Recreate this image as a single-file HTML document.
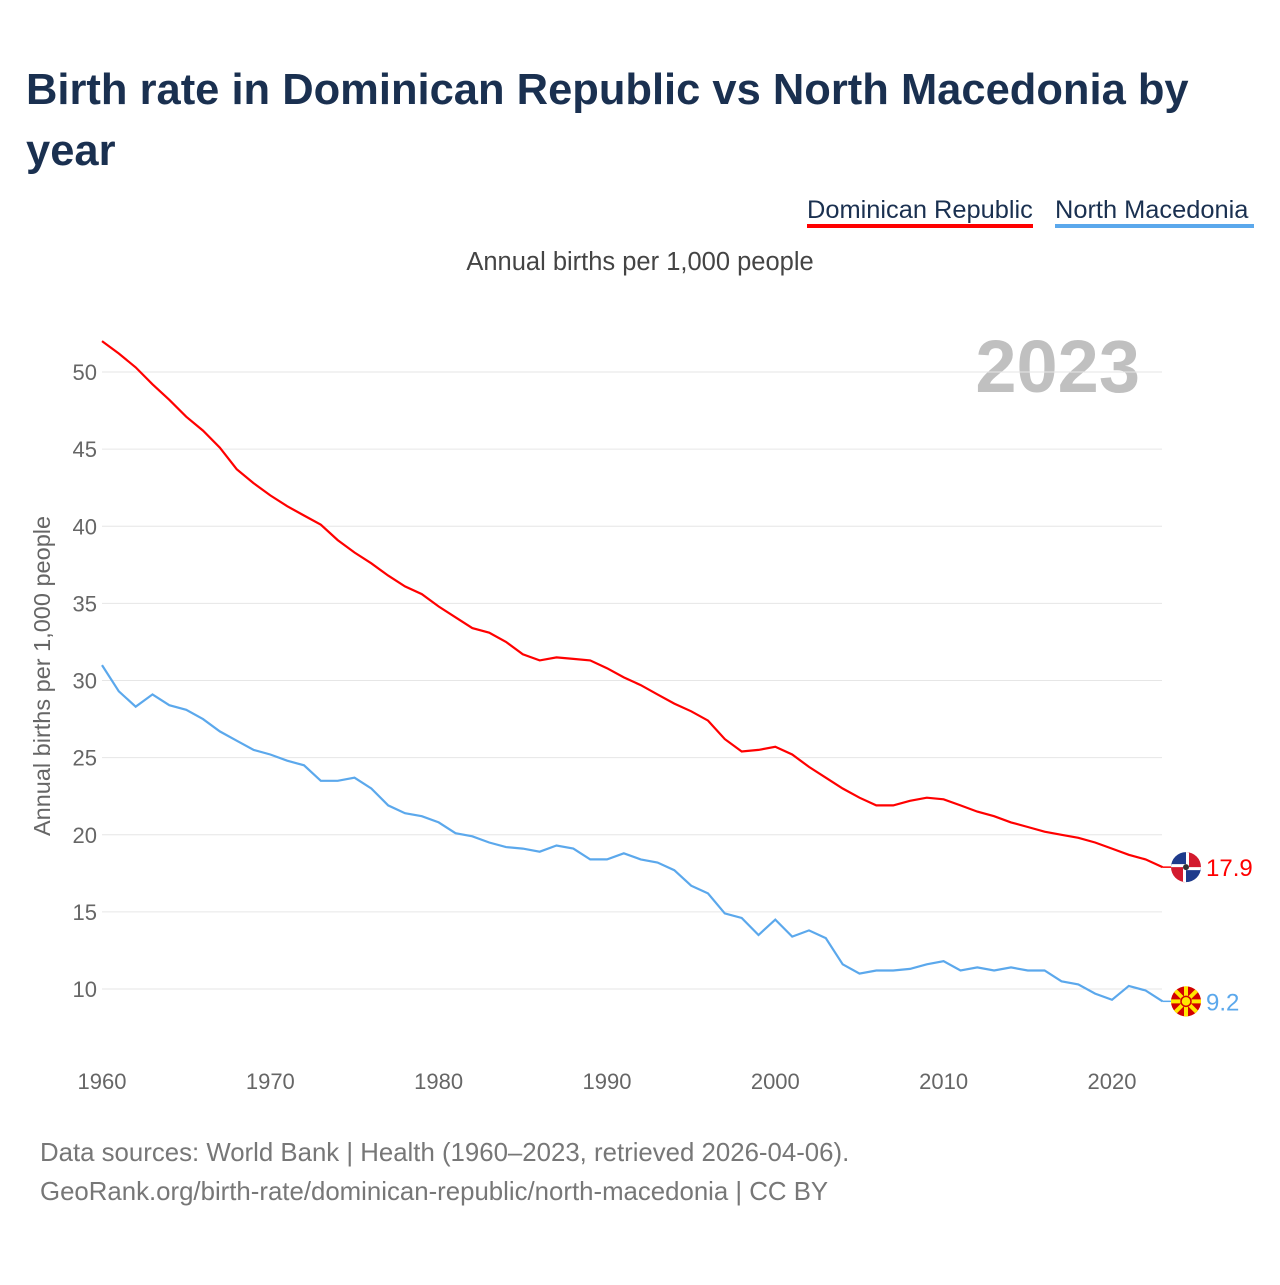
<!DOCTYPE html>
<html><head><meta charset="utf-8"><style>
body{margin:0;background:#fff;font-family:"Liberation Sans",sans-serif}
#wrap{position:relative;width:1280px;height:1280px}
</style></head><body>
<div id="wrap">
<svg id="chart" width="1280" height="1280" xmlns="http://www.w3.org/2000/svg">
<text x="26" y="104" font-size="43.5" font-weight="bold" fill="#1a3050">Birth rate in Dominican Republic vs North Macedonia by</text>
<text x="26" y="165" font-size="43.5" font-weight="bold" fill="#1a3050">year</text>
<g><text x="807" y="218" font-size="25.4" fill="#1a3050">Dominican Republic</text><rect x="807" y="224" width="226" height="4" fill="#ff0000"/></g>
<g><text x="1055" y="218" font-size="25.4" fill="#1a3050">North Macedonia</text><rect x="1055" y="224" width="199" height="4" fill="#5ba8ec"/></g>
<text x="640" y="270" font-size="25.5" fill="#444" text-anchor="middle">Annual births per 1,000 people</text>
<text x="1140" y="392" font-size="74" font-weight="bold" fill="#c0c0c0" text-anchor="end">2023</text>
<text transform="translate(50,676) rotate(-90)" font-size="23.5" fill="#666" text-anchor="middle">Annual births per 1,000 people</text>
<g id="grid"></g><g id="yt"></g><g id="xt"></g><g id="lines"></g><g id="ends"></g>
<text x="40" y="1161" font-size="25.8" fill="#777">Data sources: World Bank | Health (1960–2023, retrieved 2026-04-06).</text>
<text x="40" y="1200" font-size="25.8" fill="#777">GeoRank.org/birth-rate/dominican-republic/north-macedonia | CC BY</text>
</svg></div>
<script>
const years=[];for(let y=1960;y<=2023;y++)years.push(y);
const domRep=[52.0,51.2,50.3,49.2,48.2,47.1,46.2,45.1,43.7,42.8,42.0,41.3,40.7,40.1,39.1,38.3,37.6,36.8,36.1,35.6,34.8,34.1,33.4,33.1,32.5,31.7,31.3,31.5,31.4,31.3,30.8,30.2,29.7,29.1,28.5,28.0,27.4,26.2,25.4,25.5,25.7,25.2,24.4,23.7,23.0,22.4,21.9,21.9,22.2,22.4,22.3,21.9,21.5,21.2,20.8,20.5,20.2,20.0,19.8,19.5,19.1,18.7,18.4,17.9];
const nMac=[31.0,29.3,28.3,29.1,28.4,28.1,27.5,26.7,26.1,25.5,25.2,24.8,24.5,23.5,23.5,23.7,23.0,21.9,21.4,21.2,20.8,20.1,19.9,19.5,19.2,19.1,18.9,19.3,19.1,18.4,18.4,18.8,18.4,18.2,17.7,16.7,16.2,14.9,14.6,13.5,14.5,13.4,13.8,13.3,11.6,11.0,11.2,11.2,11.3,11.6,11.8,11.2,11.4,11.2,11.4,11.2,11.2,10.5,10.3,9.7,9.3,10.2,9.9,9.2];
const yTicks=[10,15,20,25,30,35,40,45,50];
const xTicks=[1960,1970,1980,1990,2000,2010,2020];
const X=y=>102+(y-1960)*16.833;
const Y=v=>989-(v-10)*15.425;
const NS="http://www.w3.org/2000/svg";
function mk(t,a,p,txt){const e=document.createElementNS(NS,t);for(const k in a)e.setAttribute(k,a[k]);if(txt!=null)e.textContent=txt;document.getElementById(p).appendChild(e);return e;}
yTicks.forEach(v=>{
const l=mk('line',{x1:102,x2:1162,y1:Y(v),y2:Y(v),stroke:'#e6e6e6','stroke-width':1},'grid');


const t=mk('text',{x:97,y:Y(v)+8,'font-size':22,fill:'#666','text-anchor':'end'},'yt',String(v));


});
xTicks.forEach(v=>{
const t=mk('text',{x:X(v),y:1089,'font-size':22,fill:'#666','text-anchor':'middle'},'xt',String(v));


});
function line(d,c,n){
const p=mk('path',{d:d.map((v,i)=>(i?'L':'M')+X(years[i]).toFixed(1)+','+Y(v).toFixed(1)).join(''),fill:'none',stroke:c,'stroke-width':2.2},'lines');


}
line(domRep,'#ff0000','line-dominican-republic');
line(nMac,'#5ba8ec','line-north-macedonia');
function end(d,c,n,flag){
const v=d[d.length-1],x=X(2023),y=Y(v);
mk('line',{x1:x,x2:x+14,y1:y,y2:y,stroke:c,'stroke-width':1.5},'ends');
const g=mk('g',{},'ends');


const cx=1186;
if(flag==='do'){
g.innerHTML=`<circle cx="${cx}" cy="${y}" r="15" fill="#fff"/><path d="M${cx-15},${y}A15,15 0 0 1 ${cx},${y-15}V${y-3}H${cx-15}Z" fill="#1e3b8c"/><path d="M${cx+15},${y}A15,15 0 0 1 ${cx},${y+15}V${y+3}H${cx+15}Z" fill="#1e3b8c"/><path d="M${cx},${y-15}A15,15 0 0 1 ${cx+15},${y}H${cx+3}V${y-15}Z" fill="#d31a2e"/><path d="M${cx},${y+15}A15,15 0 0 1 ${cx-15},${y}H${cx-3}V${y+15}Z" fill="#d31a2e"/><circle cx="${cx}" cy="${y}" r="3" fill="#333"/>`;
}else{
g.innerHTML=`<circle cx="${cx}" cy="${y}" r="15" fill="#d20000"/><g stroke="#ffe600" stroke-width="4">${[0,45,90,135].map(a=>`<line x1="${cx-15*Math.cos(a*Math.PI/180)}" y1="${y-15*Math.sin(a*Math.PI/180)}" x2="${cx+15*Math.cos(a*Math.PI/180)}" y2="${y+15*Math.sin(a*Math.PI/180)}"/>`).join('')}</g><circle cx="${cx}" cy="${y}" r="5" fill="#ffe600" stroke="#d20000" stroke-width="1.5"/>`;
}
const t=mk('text',{x:1206,y:y+9,'font-size':24,fill:c},'ends',v.toFixed(1));


}
end(domRep,'#ff0000','dominican-republic','do');
end(nMac,'#5ba8ec','north-macedonia','mk');
</script>
</body></html>
